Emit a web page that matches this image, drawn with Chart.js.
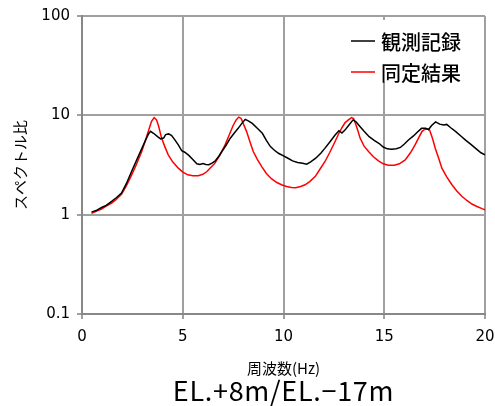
<!DOCTYPE html>
<html>
<head>
<meta charset="utf-8">
<script src="https://cdn.jsdelivr.net/npm/chart.js@4/dist/chart.umd.min.js"></script>
<style>
  html, body { margin: 0; padding: 0; background: #fff; }
  #wrap { width: 495px; height: 406px; position: relative; }
</style>
</head>
<body>
<div id="wrap"><canvas id="c" width="495" height="406"></canvas></div>
<script>
// ---- data ----
const seriesNames = ['観測記録', '同定結果'];
const obsFreq = [0.47,0.7,0.97,1.2,1.47,1.7,1.96,2.2,2.46,2.7,2.96,3.15,3.3,3.4,3.55,3.75,3.9,4.05,4.15,4.3,4.45,4.6,4.78,4.95,5.1,5.3,5.5,5.7,5.85,6.0,6.15,6.3,6.45,6.6,6.8,6.95,7.15,7.35,7.55,7.75,7.95,8.1,8.25,8.45,8.7,8.95,9.15,9.35,9.55,9.75,10.0,10.2,10.45,10.7,10.95,11.15,11.35,11.6,11.85,12.05,12.3,12.55,12.75,12.9,13.05,13.25,13.45,13.6,13.75,14.0,14.25,14.5,14.75,14.95,15.15,15.35,15.6,15.8,16.0,16.2,16.45,16.65,16.85,17.05,17.2,17.35,17.55,17.75,17.95,18.1,18.3,18.55,18.8,19.05,19.3,19.55,19.8,20.0];
const obsVal  = [1.06,1.10,1.18,1.24,1.36,1.48,1.65,2.05,2.72,3.5,4.6,5.6,6.5,6.9,6.6,6.1,5.8,5.9,6.4,6.5,6.25,5.7,5.05,4.4,4.25,3.95,3.6,3.25,3.2,3.28,3.2,3.18,3.3,3.45,3.9,4.35,5.0,5.85,6.6,7.4,8.4,9.1,8.8,8.3,7.4,6.6,5.6,4.85,4.45,4.15,3.9,3.72,3.48,3.35,3.3,3.22,3.4,3.7,4.15,4.65,5.4,6.3,7.0,6.65,7.1,8.0,9.0,8.6,7.9,6.9,6.1,5.6,5.2,4.8,4.6,4.55,4.6,4.75,5.15,5.65,6.2,6.8,7.4,7.4,7.2,7.9,8.6,8.15,8.0,8.1,7.5,6.85,6.2,5.6,5.1,4.62,4.2,4.0];
const fitFreq = [0.47,0.7,0.97,1.2,1.47,1.7,1.96,2.2,2.46,2.7,2.96,3.15,3.3,3.45,3.58,3.7,3.8,3.95,4.1,4.28,4.5,4.78,5.0,5.25,5.5,5.77,6.0,6.2,6.4,6.6,6.85,7.1,7.3,7.5,7.65,7.78,7.9,8.0,8.17,8.35,8.5,8.7,8.92,9.15,9.4,9.65,9.9,10.15,10.4,10.6,10.85,11.07,11.3,11.57,11.8,12.06,12.3,12.56,12.75,12.9,13.05,13.22,13.38,13.48,13.58,13.7,13.8,14.0,14.22,14.45,14.71,14.95,15.2,15.5,15.75,16.04,16.3,16.53,16.7,16.87,17.0,17.11,17.25,17.4,17.53,17.7,17.86,18.1,18.36,18.6,18.85,19.1,19.35,19.6,19.85,20.0];
const fitVal  = [1.03,1.08,1.14,1.22,1.31,1.42,1.6,1.95,2.5,3.2,4.3,5.6,7.0,8.7,9.5,9.0,7.8,5.9,4.9,4.0,3.4,2.94,2.68,2.52,2.47,2.46,2.55,2.72,3.0,3.3,4.0,5.04,6.3,7.9,9.0,9.6,9.3,8.3,6.86,5.3,4.32,3.6,3.05,2.6,2.3,2.12,2.0,1.92,1.88,1.87,1.92,2.0,2.15,2.42,2.85,3.43,4.25,5.45,6.6,7.5,8.4,9.0,9.5,9.3,8.2,6.9,5.9,4.9,4.32,3.85,3.48,3.25,3.15,3.15,3.25,3.56,4.2,5.04,5.9,6.86,7.2,7.3,7.1,5.8,4.67,3.7,2.94,2.4,2.0,1.73,1.53,1.39,1.28,1.21,1.15,1.12];
const yTickValues = [0.1, 1, 10, 100];
const yTickLabels = ['0.1', '1', '10', '100'];
const xTickValues = [0, 5, 10, 15, 20];
const xTitle = '周波数(Hz)';
const yTitle = 'スペクトル比';
const subTitle = 'EL.+8m/EL.−17m';

const toPts = (xs, ys) => xs.map((x, i) => ({ x: x, y: ys[i] }));

const legendPlugin = {
  id: 'insideLegend',
  afterDatasetsDraw(chart) {
    const ctx = chart.ctx;
    ctx.save();
    ctx.fillStyle = '#ffffff';
    ctx.fillRect(346, 20, 132, 62);
    const items = [
      { name: seriesNames[0], color: chart.data.datasets[0].borderColor, y: 41 },
      { name: seriesNames[1], color: chart.data.datasets[1].borderColor, y: 72 }
    ];
    items.forEach(it => {
      ctx.strokeStyle = it.color;
      ctx.lineWidth = 1.5;
      ctx.beginPath();
      ctx.moveTo(351, it.y);
      ctx.lineTo(375, it.y);
      ctx.stroke();
      ctx.fillStyle = '#000';
      ctx.font = '500 20px "Noto Sans CJK JP"';
      ctx.textBaseline = 'middle';
      ctx.textAlign = 'left';
      ctx.fillText(it.name, 381, it.y + 1);
    });
    ctx.restore();
  }
};

const subTitlePlugin = {
  id: 'subTitle',
  afterDraw(chart) {
    const ctx = chart.ctx;
    const a = chart.chartArea;
    ctx.save();
    ctx.fillStyle = '#000';
    ctx.font = '27px "Noto Sans CJK JP"';
    if ('letterSpacing' in ctx) ctx.letterSpacing = '0.7px';
    ctx.textAlign = 'center';
    ctx.textBaseline = 'alphabetic';
    ctx.fillText(subTitle, (a.left + a.right) / 2, 400.5);
    ctx.restore();
  }
};

new Chart(document.getElementById('c'), {
  type: 'line',
  data: {
    datasets: [
      { label: seriesNames[0], data: toPts(obsFreq, obsVal), borderColor: '#000000', borderWidth: 1.5, pointRadius: 0, tension: 0, fill: false },
      { label: seriesNames[1], data: toPts(fitFreq, fitVal), borderColor: '#ff0000', borderWidth: 1.5, pointRadius: 0, tension: 0, fill: false }
    ]
  },
  plugins: [legendPlugin, subTitlePlugin],
  options: {
    responsive: false,
    animation: false,
    layout: { padding: { left: 0, right: 10, top: 16, bottom: 33.2 } },
    plugins: {
      legend: { display: false },
      tooltip: { enabled: false },
      title: { display: false }
    },
    scales: {
      x: {
        type: 'linear',
        min: 0, max: 20,
        afterBuildTicks: (s) => { s.ticks = xTickValues.map(v => ({ value: v })); },
        afterFit: (s) => { s.height = 58.8; s.paddingLeft = 0; s.paddingRight = 0; },
        ticks: { color: '#000', font: { family: '"DejaVu Sans"', size: 15 }, padding: 9, maxRotation: 0 },
        grid: { color: '#a0a0a0', lineWidth: 2, tickLength: 5, drawTicks: true },
        border: { color: '#888888', width: 2 },
        title: { display: true, text: xTitle, color: '#000', font: { family: '"Noto Sans CJK JP"', size: 15 }, padding: { top: 0, bottom: -4 } }
      },
      y: {
        type: 'logarithmic',
        min: 0.1, max: 100,
        afterBuildTicks: (s) => { s.ticks = yTickValues.map(v => ({ value: v })); },
        afterFit: (s) => { s.width = 82; s.paddingTop = 0; s.paddingBottom = 0; },
        ticks: {
          color: '#000', font: { family: '"DejaVu Sans"', size: 15 }, padding: 7,
          callback: (v) => { const i = yTickValues.indexOf(v); return i >= 0 ? yTickLabels[i] : ''; }
        },
        grid: { color: '#a0a0a0', lineWidth: 2, tickLength: 5, drawTicks: true },
        border: { color: '#888888', width: 2 },
        title: { display: true, text: yTitle, color: '#000', font: { family: '"Noto Sans CJK JP"', size: 15 }, padding: { top: 11, bottom: 0 } }
      }
    }
  }
});
</script>
</body>
</html>
